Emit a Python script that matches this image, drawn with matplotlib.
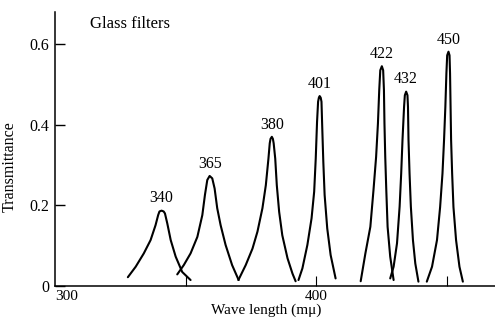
import matplotlib
matplotlib.use("Agg")
import matplotlib.pyplot as plt

plt.rcParams['font.family'] = ['Liberation Serif', 'DejaVu Serif']

# filter names (labels) and transmittance curves
filter_labels = ["340", "365", "380", "401", "422", "432", "450"]

wl_340 = [327.9, 330.9, 334.0, 336.6, 338.5, 339.5, 340.0, 340.8, 341.6, 342.1, 343.0, 344.3, 346.2, 348.7, 351.9]
tr_340 = [0.022, 0.048, 0.081, 0.114, 0.151, 0.176, 0.185, 0.187, 0.185, 0.180, 0.155, 0.114, 0.073, 0.035, 0.015]

wl_365 = [346.8, 349.3, 351.9, 354.5, 356.4, 357.4, 358.3, 359.2, 360.2, 361.1, 362.1, 363.4, 365.3, 367.8, 370.3]
tr_365 = [0.029, 0.052, 0.081, 0.122, 0.176, 0.226, 0.263, 0.273, 0.267, 0.242, 0.193, 0.151, 0.102, 0.052, 0.015]

wl_380 = [370.2, 373.0, 375.6, 377.5, 379.4, 380.7, 381.7, 382.2, 382.5, 383.0, 383.4, 383.7, 384.3, 384.9, 385.8,
          387.0, 389.0, 390.9, 392.1]
tr_380 = [0.015, 0.052, 0.093, 0.135, 0.193, 0.250, 0.316, 0.354, 0.365, 0.370, 0.365, 0.354, 0.316, 0.250, 0.184,
          0.126, 0.069, 0.031, 0.012]

wl_401 = [393.2, 394.7, 396.6, 398.2, 399.2, 399.8, 400.3, 400.7, 401.0, 401.3, 401.7, 402.0, 402.3, 402.7, 403.2,
          404.2, 405.5, 407.4]
tr_401 = [0.015, 0.044, 0.102, 0.168, 0.234, 0.316, 0.407, 0.457, 0.467, 0.471, 0.467, 0.457, 0.391, 0.308, 0.226,
          0.143, 0.077, 0.019]

wl_422 = [417.0, 418.8, 420.7, 421.9, 422.9, 423.6, 424.1, 424.5, 425.1, 425.6, 425.9, 426.1, 426.4, 426.8, 427.3,
          428.3, 429.6]
tr_422 = [0.012, 0.081, 0.147, 0.238, 0.320, 0.403, 0.486, 0.535, 0.545, 0.535, 0.486, 0.403, 0.320, 0.238, 0.147,
          0.073, 0.015]

wl_432 = [428.3, 429.6, 430.9, 431.9, 432.5, 433.0, 433.6, 433.9, 434.4, 434.9, 435.1, 435.3, 435.7, 436.2, 437.0,
          437.9, 439.1]
tr_432 = [0.019, 0.048, 0.106, 0.197, 0.279, 0.362, 0.444, 0.473, 0.482, 0.473, 0.444, 0.362, 0.279, 0.197, 0.114,
          0.056, 0.011]

wl_450 = [442.3, 444.3, 446.2, 447.4, 448.3, 448.9, 449.4, 449.8, 450.1, 450.6, 451.0, 451.2, 451.4, 451.6, 452.0,
          452.5, 453.5, 454.8, 456.1]
tr_450 = [0.011, 0.048, 0.114, 0.196, 0.279, 0.362, 0.444, 0.527, 0.572, 0.581, 0.572, 0.527, 0.444, 0.362, 0.279,
          0.196, 0.114, 0.048, 0.011]

curves = [(wl_340, tr_340), (wl_365, tr_365), (wl_380, tr_380), (wl_401, tr_401),
          (wl_422, tr_422), (wl_432, tr_432), (wl_450, tr_450)]

fig = plt.figure(figsize=(4.95, 3.2), dpi=100)
ax = fig.add_axes([0.111, 0.106, 0.889, 0.856])

for label, (wl, tr) in zip(filter_labels, curves):
    ax.plot(wl, tr, color='black', lw=1.5, solid_joinstyle='round', solid_capstyle='round')
    i = tr.index(max(tr))
    ax.annotate(label, (wl[i], tr[i]), xytext=(0, 3), textcoords='offset points',
                ha='center', va='bottom', fontsize=11.5)

ax.text(313.5, 0.65, "Glass filters", fontsize=12, va='center', ha='left')

ax.set_xlim(300, 468.4)
ax.set_ylim(0, 0.679)

ax.set_yticks([0, 0.2, 0.4, 0.6])
ax.set_yticklabels(["0", "0.2", "0.4", "0.6"], fontsize=11.5)
ax.set_xticks([300, 350, 400, 450])
ax.set_xticklabels(["300", "", "400", ""], fontsize=11)
ax.get_xticklabels()[0].set_horizontalalignment('left')
ax.tick_params(axis='y', direction='in', length=7, width=1, pad=4)
ax.tick_params(axis='x', direction='in', length=7, width=0.8, pad=3)
ax.xaxis.get_major_ticks()[0].tick1line.set_visible(False)

for side in ['top', 'right']:
    ax.spines[side].set_visible(False)
ax.spines['left'].set_linewidth(1.1)
ax.spines['bottom'].set_linewidth(1.1)

ax.set_ylabel("Transmittance", fontsize=11.5)
ax.yaxis.set_label_coords(-0.084, 0.435)
ax.set_xlabel("Wave length (m\u03bc)", fontsize=11)
ax.xaxis.set_label_coords(0.48, -0.062)

fig.savefig("out.png", dpi=100)
